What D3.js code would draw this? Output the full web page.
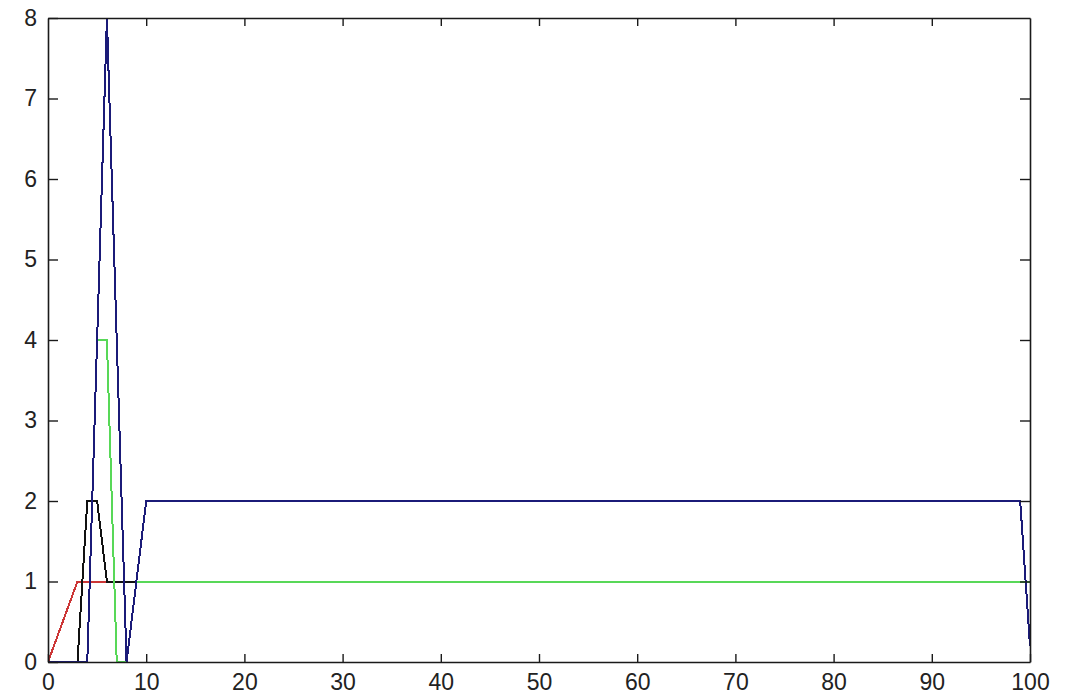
<!DOCTYPE html>
<html>
<head>
<meta charset="utf-8">
<script src="https://cdn.jsdelivr.net/npm/d3@7"></script>
<style>
  html, body { margin: 0; padding: 0; background: #fff; }
  svg { display: block; }
  .tick text { font-family: "Liberation Sans", Arial, sans-serif; }
</style>
</head>
<body>
<script>
// Axis ticks
const xTicks = [0, 10, 20, 30, 40, 50, 60, 70, 80, 90, 100];
const yTicks = [0, 1, 2, 3, 4, 5, 6, 7, 8];

// Series breakpoints (piecewise-linear traces)
const redX   = [0, 3, 100];
const redY   = [0, 1, 1];
const blackX = [0, 3, 4, 5, 6, 100];
const blackY = [0, 0, 2, 2, 1, 1];
const greenX = [0, 4, 5, 6, 7, 8, 9, 100];
const greenY = [0, 0, 4, 4, 0, 0, 1, 1];
const navyX  = [0, 4, 6, 8, 10, 99, 100];
const navyY  = [0, 0, 8, 0, 2, 2, 0.2];

const W = 1071, H = 699;
const plot = { left: 48, right: 1030, top: 18, bottom: 662 };

const svg = d3.select("body").append("svg")
  .attr("width", W).attr("height", H);

const x = d3.scaleLinear().domain([0, 100]).range([plot.left, plot.right]);
const y = d3.scaleLinear().domain([0, 8]).range([plot.bottom, plot.top]);

svg.append("defs").append("clipPath").attr("id", "plotClip")
  .append("rect")
  .attr("x", plot.left).attr("y", plot.top - 1)
  .attr("width", plot.right - plot.left).attr("height", plot.bottom - plot.top + 2);

const line = d3.line().x(d => x(d[0])).y(d => y(d[1]));

const series = [
  { xs: redX,   ys: redY,   color: "#cc3636", width: 2 },
  { xs: blackX, ys: blackY, color: "#111111", width: 2 },
  { xs: greenX, ys: greenY, color: "#58d858", width: 2 },
  { xs: navyX,  ys: navyY,  color: "#1b1b78", width: 2 }
];

// Traces are drawn pixel-aligned so overlapping segments fully cover each other
const g = svg.append("g").attr("clip-path", "url(#plotClip)");
series.forEach(s => {
  g.append("path")
    .datum(d3.zip(s.xs, s.ys))
    .attr("fill", "none")
    .attr("stroke", s.color)
    .attr("stroke-width", s.width)
    .attr("shape-rendering", "crispEdges")
    .attr("d", line);
});

// Box axes with inward ticks on all four sides
const fontSize = 23;
const axisColor = "#1a1a1a";

const xb = svg.append("g").attr("transform", `translate(0,${plot.bottom})`)
  .call(d3.axisBottom(x).tickValues(xTicks).tickSizeInner(-8).tickSizeOuter(0).tickPadding(12));
const xt = svg.append("g").attr("transform", `translate(0,${plot.top})`)
  .call(d3.axisTop(x).tickValues(xTicks).tickSizeInner(-8).tickSizeOuter(0).tickFormat(""));
const yl = svg.append("g").attr("transform", `translate(${plot.left},0)`)
  .call(d3.axisLeft(y).tickValues(yTicks).tickSizeInner(-10).tickSizeOuter(0).tickPadding(11));
const yr = svg.append("g").attr("transform", `translate(${plot.right},0)`)
  .call(d3.axisRight(y).tickValues(yTicks).tickSizeInner(-10).tickSizeOuter(0).tickFormat(""));

[xb, xt, yl, yr].forEach(a => {
  a.select(".domain").attr("stroke", axisColor).attr("stroke-width", 1.6);
  a.selectAll(".tick line").attr("stroke", axisColor).attr("stroke-width", 1.4);
  a.selectAll(".tick text")
    .attr("fill", "#222")
    .style("font-size", fontSize + "px");
});
// Ticks at the ends coincide with the box edges
xt.selectAll(".tick").filter(d => d === 0 || d === 100).select("line").remove();
yr.selectAll(".tick").filter(d => d === 0 || d === 8).select("line").remove();
</script>
</body>
</html>
